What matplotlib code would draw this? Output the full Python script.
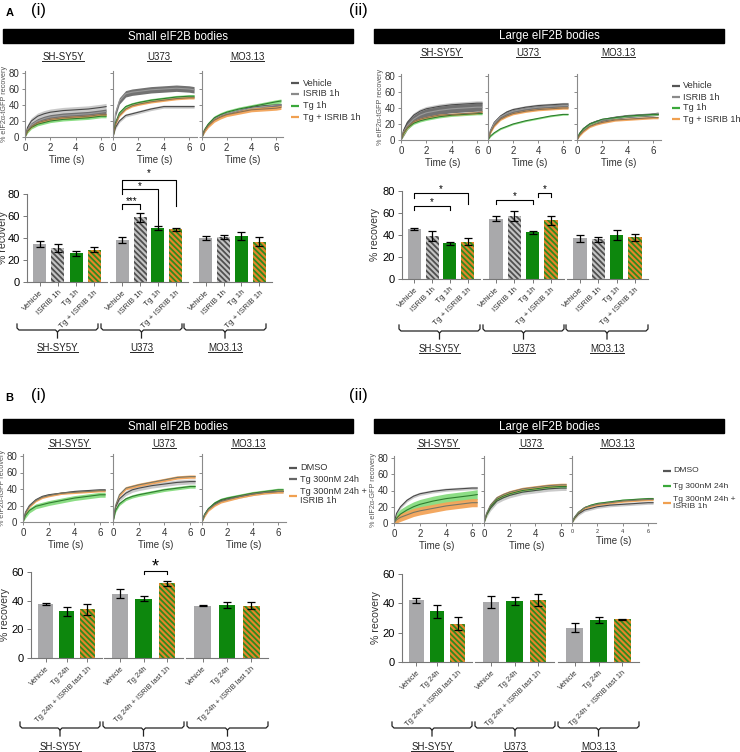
import numpy as np
import matplotlib.pyplot as plt
from matplotlib.lines import Line2D
from matplotlib.patches import Rectangle

plt.rcParams['font.family'] = ['Liberation Sans', 'DejaVu Sans']
plt.rcParams['hatch.linewidth'] = 1.3

cells = ['SH-SY5Y', 'U373', 'MO3.13']
t = [0, 0.2, 0.5, 1, 1.5, 2, 3, 4, 5, 6, 6.4]

# A (i) small bodies, FRAP curves, one list per cell line
a_small_vehicle = [[0, 12, 20, 26, 29, 31, 33, 34, 35, 37, 38],
                   [0, 12, 20, 27, 29, 31, 35, 38, 38, 38, 38],
                   [0, 8, 15, 23, 27, 29, 33, 37, 39, 40, 40]]
a_small_isrib = [[0, 9, 15, 20, 23, 25, 27, 28, 29, 31, 32],
                 [0, 30, 45, 54, 56, 57, 59, 60, 61, 60, 59],
                 [0, 8, 15, 23, 27, 29, 33, 36, 38, 40, 40]]
a_small_tg = [[0, 7, 12, 16, 18, 20, 22, 23, 24, 26, 26],
              [0, 18, 30, 38, 41, 43, 46, 48, 50, 51, 51],
              [0, 9, 16, 24, 28, 31, 35, 38, 41, 44, 45]]
a_small_tgisrib = [[0, 8, 13, 18, 20, 22, 24, 25, 26, 28, 28],
                   [0, 16, 27, 35, 39, 41, 44, 46, 48, 49, 49],
                   [0, 8, 14, 21, 25, 28, 31, 34, 35, 36, 37]]
a_small_sem = [[4, 3, 2, 1.5], [2, 4, 2, 1.5], [2, 2, 2.5, 2.5]]

# A (ii) large bodies
a_large_vehicle = [[0, 12, 22, 31, 36, 39, 42, 44, 45, 46, 46],
                   [0, 12, 22, 30, 35, 38, 41, 43, 44, 45, 45],
                   [0, 8, 14, 20, 23, 25, 28, 30, 31, 32, 32]]
a_large_isrib = [[0, 10, 18, 26, 31, 34, 37, 39, 40, 41, 41],
                 [0, 11, 21, 29, 33, 36, 39, 41, 42, 43, 43],
                 [0, 8, 14, 20, 23, 25, 28, 30, 31, 32, 33]]
a_large_tg = [[0, 8, 15, 21, 24, 26, 29, 31, 32, 33, 33],
              [0, 5, 9, 14, 17, 20, 24, 27, 30, 32, 32],
              [0, 8, 14, 20, 23, 26, 28, 30, 31, 32, 32]]
a_large_tgisrib = [[0, 9, 16, 23, 26, 28, 31, 32, 33, 34, 35],
                   [0, 10, 18, 26, 30, 33, 36, 38, 39, 40, 40],
                   [0, 6, 11, 17, 20, 22, 25, 26, 27, 28, 28]]
a_large_sem = [[3, 5, 1.5, 1.5], [2, 2, 1, 1.5], [1.5, 2, 1, 1.5]]

# B (i) small bodies
b_small_dmso = [[0, 12, 20, 27, 31, 33, 35, 37, 38, 39, 39],
                [0, 18, 28, 35, 39, 41, 44, 46, 48, 49, 49],
                [0, 9, 16, 22, 26, 28, 31, 34, 36, 37, 37]]
b_small_tg = [[0, 8, 14, 19, 21, 23, 26, 29, 31, 33, 33],
              [0, 14, 22, 28, 31, 33, 36, 39, 41, 43, 43],
              [0, 9, 16, 23, 27, 29, 32, 35, 37, 39, 39]]
b_small_tgisrib = [[0, 11, 19, 26, 30, 32, 35, 36, 37, 38, 38],
                   [0, 20, 33, 41, 43, 45, 48, 51, 54, 55, 55],
                   [0, 8, 15, 21, 25, 27, 31, 34, 36, 37, 37]]
b_small_sem = [[1.5, 3, 1.5], [3, 2, 2], [2, 2, 2]]

# B (ii) large bodies
b_large_dmso = [[0, 12, 20, 28, 33, 36, 39, 41, 42, 43, 43],
                [0, 10, 18, 27, 31, 34, 38, 40, 42, 43, 43],
                [0, 6, 11, 16, 18, 20, 22, 23, 24, 25, 25]]
b_large_tg = [[0, 6, 11, 16, 20, 23, 27, 30, 32, 34, 35],
              [0, 11, 20, 29, 33, 36, 40, 42, 44, 45, 45],
              [0, 7, 13, 19, 22, 24, 26, 28, 29, 30, 30]]
b_large_tgisrib = [[0, 4, 7, 10, 13, 15, 18, 21, 23, 25, 25],
                   [0, 12, 22, 31, 35, 38, 42, 44, 46, 47, 47],
                   [0, 7, 13, 19, 21, 23, 25, 27, 28, 29, 29]]
b_large_sem = [[2, 6, 5], [3, 2, 2], [2, 1.5, 1.5]]

# bar charts: mean and SEM per cell line
a_labels = ['Vehicle', 'ISRIB 1h', 'Tg 1h', 'Tg + ISRIB 1h']
a_small_mean = [[34.5, 31, 26, 29.5], [38, 59, 49, 48], [40, 41, 42, 36.5]]
a_small_err = [[2.5, 4, 2.5, 2], [2.5, 4, 2, 1.5], [2, 1.5, 3.5, 4]]
a_large_mean = [[45.5, 39, 32.5, 34], [55, 57, 42.5, 53.5], [37, 36, 40, 38]]
a_large_err = [[0.5, 4.5, 1.5, 3], [2.5, 4.5, 1.5, 4], [3, 2, 4.5, 3]]

b_labels = ['Vehicle', 'Tg 24h', 'Tg 24h + ISRIB last 1h']
b_small_mean = [[37.8, 32.5, 34], [45, 41.5, 52], [36.5, 37, 36.5]]
b_small_err = [[0.5, 3, 4], [3, 2, 2], [0.3, 2, 2.5]]
b_large_mean = [[42, 34.5, 26], [41, 41.5, 42.5], [23.5, 28.5, 29]]
b_large_err = [[1.5, 4.5, 4.5], [4, 2.5, 4], [3, 2, 0.3]]

a_legend = ['Vehicle', 'ISRIB 1h', 'Tg 1h', 'Tg + ISRIB 1h']
b_legend = ['DMSO', 'Tg 300nM 24h', 'Tg 300nM 24h +\nISRIB 1h']

W, H = 740, 752
fig = plt.figure(figsize=(7.4, 7.52), dpi=100)
underlined = []


def box(x0, y0, x1, y1):
    return [x0 / W, 1 - y1 / H, (x1 - x0) / W, (y1 - y0) / H]


def ftext(x, y, s, **kw):
    return fig.text(x / W, 1 - y / H, s, **kw)


def fline(xs, ys, **kw):
    fig.add_artist(Line2D([x / W for x in xs], [1 - y / H for y in ys], **kw))


def banner(x0, y0, x1, y1, s):
    fig.add_artist(Rectangle((x0 / W, 1 - y1 / H), (x1 - x0) / W, (y1 - y0) / H,
                             transform=fig.transFigure, color='black'))
    ftext((x0 + x1) / 2, (y0 + y1) / 2 + 0.5, s, color='white', fontsize=8.3,
          ha='center', va='center')


def uline_text(x, y, s, size=7):
    tx = ftext(x, y, s, fontsize=size, ha='center', va='center', color='#222222')
    underlined.append(tx)


def curve_panel(xpos, y0, y80, series, bandcols, linecols, sems, ylabel, titles_y, title_x,
                tiny_last=False):
    for c in range(3):
        x0, x6 = xpos[c]
        sx = (x6 - x0) / 6
        sy = (y0 - y80) / 80
        ax = fig.add_axes(box(x0, y0 - 82 * sy, x0 + 6.6 * sx, y0))
        for k in range(len(series)):
            v = np.array(series[k][c], dtype=float)
            s = sems[c][k]
            lo = np.clip(v - s, 0, None)
            lo[0] = 0
            hi = v + s
            hi[0] = 0
            ax.fill_between(t, lo, hi, color=bandcols[k], lw=0, alpha=0.95)
            ax.plot(t, v, color=linecols[k], lw=0.8)
        ax.set_xlim(0, 6.6)
        ax.set_ylim(0, 82)
        ax.set_xticks([0, 2, 4, 6])
        ax.set_yticks([0, 20, 40, 60, 80])
        for sp in ['top', 'right']:
            ax.spines[sp].set_visible(False)
        for sp in ['left', 'bottom']:
            ax.spines[sp].set_color('#8a8a8a')
            ax.spines[sp].set_linewidth(0.8)
        ax.tick_params(length=2.5, width=0.7, color='#8a8a8a', labelsize=7,
                       labelcolor='#333333', pad=1.5)
        ax.set_xlabel('Time (s)', fontsize=7, color='#333333', labelpad=2)
        if c == 0:
            ax.set_ylabel(ylabel, fontsize=5.2, color='#555555', labelpad=0.5)
        else:
            ax.tick_params(axis='y', labelleft=False)
        if tiny_last and c == 2:
            ax.tick_params(axis='x', labelsize=4)
        uline_text(title_x[c], titles_y, cells[c])


def legend(xl, xt, ys, labels, cols, size=6.6):
    for y, lab, col in zip(ys, labels, cols):
        fline([xl, xl + 8], [y, y], color=col, lw=1.6, solid_capstyle='butt')
        ftext(xt, y, lab, fontsize=size, ha='left', va='center', color='#333333',
              linespacing=0.95)


def bar_panel(xgroups, y0, ytop, ymax, means, errs, styles, labels, width, lsize, ylab_x):
    axes = []
    for g, (xa, xb) in enumerate(xgroups):
        ax = fig.add_axes(box(xa, ytop, xb, y0))
        n = len(means[g])
        x = np.arange(n)
        for i in range(n):
            fc, hc, hatch = styles[i]
            ax.bar(x[i], means[g][i], width=width, color=fc, edgecolor=hc, hatch=hatch,
                   linewidth=0)
        ax.errorbar(x, means[g], yerr=errs[g], fmt='none', ecolor='black', elinewidth=0.9,
                    capsize=2.6, capthick=0.9)
        ax.set_xlim(-0.7, n - 0.3)
        ax.set_ylim(0, ymax)
        ax.set_xticks(x)
        ax.set_xticklabels(labels[:n], rotation=45, ha='right', rotation_mode='anchor',
                           fontsize=lsize, color='#333333')
        for sp in ['top', 'right']:
            ax.spines[sp].set_visible(False)
        ax.spines['bottom'].set_color('#777777')
        ax.spines['left'].set_color('#777777')
        ax.tick_params(length=3, width=0.7, color='#777777', labelsize=8, pad=2)
        ax.tick_params(axis='x', labelsize=lsize, pad=2)
        ax.set_yticks(np.arange(0, ymax + 1, 20))
        if g == 0:
            ax.set_ylabel('% recovery', fontsize=7.6, color='#333333')
            ax.yaxis.set_label_coords((ylab_x - xa) / (xb - xa), 0.5)
        else:
            ax.spines['left'].set_visible(False)
            ax.tick_params(axis='y', left=False, labelleft=False)
        axes.append(ax)
    return axes


def brace(x0, x1, y, ylab, label):
    xc = (x0 + x1) / 2
    fline([x0, x0, x0 + 2, xc - 2, xc, xc], [y - 6, y - 2, y, y, y + 2, y + 8],
          color='#222222', lw=0.9)
    fline([x1, x1, x1 - 2, xc + 2, xc], [y - 6, y - 2, y, y, y + 2], color='#222222', lw=0.9)
    uline_text(xc, ylab, label, size=7)


def sig(ax, xa, xb, y, la, lb, s, ys, size=7):
    ax.plot([xa, xa, xb, xb], [la, y, y, lb], color='black', lw=0.8, clip_on=False)
    ax.text((xa + xb) / 2, ys, s, ha='center', va='center', fontsize=size, clip_on=False)


grey_band, grey_line = '#c8c8c8', '#4a4a4a'
dark_band, dark_line = '#6a6a6a', '#9a9a9a'
green_band, green_line = '#86dc7e', '#2f7d2f'
orange_band, orange_line = '#f3a458', '#8a7050'

bar_styles_a = [('#a9a9ab', '#a9a9ab', None), ('#c4c4c4', '#4f4f4f', '\\\\\\\\\\\\'),
                ('#0d870d', '#0d870d', None), ('#e4862a', '#2e8a1e', '\\\\\\\\\\\\')]
bar_styles_b = [bar_styles_a[0], bar_styles_a[2], bar_styles_a[3]]

# ---- headers ----
ftext(10, 13, 'A', fontsize=8, fontweight='bold', ha='center', va='center')
ftext(38, 10, '(i)', fontsize=12, ha='center', va='center')
ftext(358, 10, '(ii)', fontsize=12, ha='center', va='center')
ftext(9, 398, 'B', fontsize=8, fontweight='bold', ha='center', va='center')
ftext(38, 396, '(i)', fontsize=12, ha='center', va='center')
ftext(358, 396, '(ii)', fontsize=12, ha='center', va='center')
banner(3, 29, 353, 43, 'Small eIF2B bodies')
banner(374, 29, 724, 43, 'Large eIF2B bodies')
banner(3, 419, 353, 433, 'Small eIF2B bodies')
banner(374, 419, 724, 433, 'Large eIF2B bodies')

# ---- curves ----
a_bands = [grey_band, dark_band, green_band, orange_band]
a_lines = [grey_line, dark_line, green_line, orange_line]
curve_panel([(25, 101), (113, 189), (202, 276)], 137, 73,
            [a_small_vehicle, a_small_isrib, a_small_tg, a_small_tgisrib],
            a_bands, a_lines, a_small_sem, '% eIF2\u03b1-tGFP recovery', 57, [63, 159, 247])
curve_panel([(401, 477), (488, 563), (577, 653)], 140, 76,
            [a_large_vehicle, a_large_isrib, a_large_tg, a_large_tgisrib],
            a_bands, a_lines, a_large_sem, '% eIF2\u03b1-tGFP recovery', 53, [441, 528, 618])
b_bands = [grey_band, green_band, orange_band]
b_lines = [grey_line, green_line, '#777766']
curve_panel([(23, 100), (113, 190), (202, 278)], 522, 456,
            [b_small_dmso, b_small_tg, b_small_tgisrib],
            b_bands, b_lines, b_small_sem, '% eIF2\u03b1-tGFP recovery', 444, [69, 164, 248])
curve_panel([(394, 472), (484, 561), (572, 648)], 523, 458,
            [b_large_dmso, b_large_tg, b_large_tgisrib],
            b_bands, b_lines, b_large_sem, '% eIF2\u03b1-GFP recovery', 444, [438, 531, 617],
            tiny_last=True)

legend(291, 303, [83, 94, 106, 117], a_legend, ['#555555', '#8a8a8a', '#3aa83a', '#f0a050'])
legend(672, 683, [86, 97, 108, 119], a_legend, ['#555555', '#8a8a8a', '#3aa83a', '#f0a050'])
legend(289, 300, [468, 479, 496], b_legend, ['#555555', '#666666', '#f0a050'])
legend(663, 673, [471, 486, 503], b_legend, ['#555555', '#3aa83a', '#f0a050'], size=6.1)

# ---- bars ----
ax_ai = bar_panel([(27, 107), (110, 188), (193, 272)], 282, 194, 80,
                  a_small_mean, a_small_err, bar_styles_a, a_labels, 0.72, 5.8, 8.5)
ax_aii = bar_panel([(402, 480), (483, 564), (567, 648)], 279, 191, 80,
                   a_large_mean, a_large_err, bar_styles_a, a_labels, 0.72, 5.8, 380)
ax_bi = bar_panel([(31, 102), (104, 183), (186, 268)], 658, 572, 60,
                  b_small_mean, b_small_err, bar_styles_b, b_labels, 0.7, 5.4, 10)
ax_bii = bar_panel([(402, 472), (475, 554), (558, 639)], 662, 574, 60,
                   b_large_mean, b_large_err, bar_styles_b, b_labels, 0.7, 5.4, 381)

# significance brackets
u = ax_ai[1]
sig(u, 0, 3, 92.7, 84.5, 69.5, '*', 99)
sig(u, 0, 2, 84.5, 80, 51, '*', 87.5)
sig(u, 0, 1, 71, 66, 66, '***', 73.5)
s = ax_aii[0]
sig(s, 0, 3, 78, 74, 68.5, '*', 81.5)
sig(s, 0, 2, 66, 63, 63, '*', 69.5)
u = ax_aii[1]
sig(u, 0, 2, 72, 68, 68, '*', 75.5)
sig(u, 2.3, 3, 78, 75, 75, '*', 81.5)
sig(ax_bi[1], 1, 2, 60.7, 58.6, 58.6, '*', 63.5, size=13)

# group braces
for (x0, x1), lab in zip([(17, 98), (101, 182), (184, 266)], cells):
    brace(x0, x1, 330, 348, lab)
for (x0, x1), lab in zip([(399, 480), (483, 564), (566, 648)], cells):
    brace(x0, x1, 331, 349, lab)
for (x0, x1), lab in zip([(20, 100), (103, 184), (187, 268)], cells):
    brace(x0, x1, 728, 747, lab)
for (x0, x1), lab in zip([(392, 472), (475, 555), (558, 639)], cells):
    brace(x0, x1, 728, 747, lab)

# underline the cell line names
fig.canvas.draw()
r = fig.canvas.get_renderer()
for tx in underlined:
    bb = tx.get_window_extent(r)
    yb = bb.y0 + 1.5
    fig.add_artist(Line2D([bb.x0 / W, bb.x1 / W], [yb / H, yb / H], color='#222222', lw=0.7))

fig.savefig('out.png', dpi=100)
